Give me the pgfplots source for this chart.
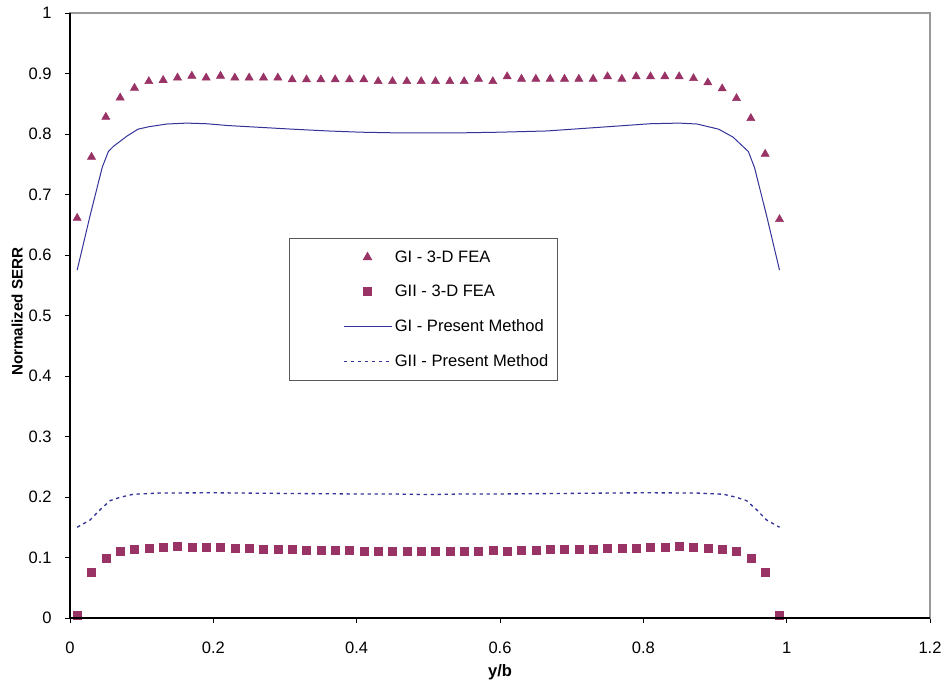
\documentclass[border=0pt]{standalone}
\usepackage{fontspec}
\setmainfont{Liberation Sans}
\usepackage{pgfplots}
\pgfplotsset{compat=1.18}
\definecolor{plum}{RGB}{153,51,102}
\definecolor{navy}{RGB}{51,51,153}
\newcommand{\chartfont}{\fontsize{12.4}{14.8}\selectfont}
\newcommand{\ylabfont}{\fontsize{11.4}{13.6}\selectfont}
\pgfplotsset{
  markleg/.style={legend image code/.code={\path (-35pt,0pt); \draw[mark repeat=2,mark phase=2,##1] plot coordinates {(0pt,0pt)(18pt,0pt)(36pt,0pt)};}},
  lineleg/.style={legend image code/.code={\path (-35pt,0pt); \draw[##1] (0pt,0pt) -- (36pt,0pt);}},
}
\begin{document}
\begin{tikzpicture}
\useasboundingbox (-52.5pt,-48.75pt) rectangle (655.5pt,463.5pt);
\begin{axis}[
  at={(0,0)}, anchor=south west,
  scale only axis, width=645pt, height=453.75pt,
  xmin=0, xmax=1.2, ymin=0, ymax=1,
  xtick={0,0.2,0.4,0.6,0.8,1,1.2},
  ytick={0,0.1,0.2,0.3,0.4,0.5,0.6,0.7,0.8,0.9,1},
  xtick pos=bottom, ytick pos=left,
  tick align=outside, major tick length=3.75pt,
  every tick/.style={black, line width=0.6pt},
  axis line style={draw=black!40, line width=0.9pt},
  /pgf/number format/assume math mode=true,
  tick label style={font=\chartfont},
  xticklabel style={font=\chartfont, anchor=base, yshift=-22.5pt},
  yticklabel style={font=\chartfont, anchor=east, xshift=-6.5pt},
  xlabel={\textbf{y/b}}, ylabel={\textbf{Normalized SERR}},
  xlabel style={font=\chartfont, at={(axis description cs:0.5,-0.0959)}, anchor=base},
  ylabel style={font=\ylabfont, at={(axis description cs:-0.0552,0.5066)}, anchor=base},
  clip=false,
  legend cell align=left,
  legend style={at={(axis cs:0.3056,0.628)}, anchor=north west,
    draw=black!65, line width=0.75pt, font=\chartfont,
    inner xsep=5pt, inner ysep=7pt, row sep=11.8pt},
  after end axis/.code={
    \draw[black, line width=0.9pt] (rel axis cs:0,1) -- (rel axis cs:0,0) -- (rel axis cs:1,0);
  },
]
\addplot[only marks, mark=triangle*, mark size=3.5pt, color=plum, markleg]
coordinates {
(0.01,0.661)(0.03,0.762)(0.05,0.828)(0.07,0.860)(0.09,0.876)(0.11,0.887)(0.13,0.889)(0.15,0.893)(0.17,0.896)(0.19,0.893)
(0.21,0.896)(0.23,0.893)(0.25,0.893)(0.27,0.893)(0.29,0.893)(0.31,0.890)(0.33,0.890)(0.35,0.890)(0.37,0.890)(0.39,0.890)
(0.41,0.890)(0.43,0.887)(0.45,0.887)(0.47,0.887)(0.49,0.887)(0.51,0.887)(0.53,0.887)(0.55,0.887)(0.57,0.891)(0.59,0.887)
(0.61,0.895)(0.63,0.891)(0.65,0.891)(0.67,0.891)(0.69,0.891)(0.71,0.891)(0.73,0.891)(0.75,0.895)(0.77,0.891)(0.79,0.895)
(0.81,0.895)(0.83,0.895)(0.85,0.895)(0.87,0.892)(0.89,0.885)(0.91,0.875)(0.93,0.859)(0.95,0.826)(0.97,0.767)(0.99,0.659)
};
\addlegendentry{GI - 3-D FEA}
\addplot[only marks, mark=square*, mark size=3pt, color=plum, markleg]
coordinates {
(0.01,0.004)(0.03,0.075)(0.05,0.099)(0.07,0.110)(0.09,0.114)(0.11,0.116)(0.13,0.117)(0.15,0.118)(0.17,0.117)(0.19,0.117)
(0.21,0.117)(0.23,0.116)(0.25,0.115)(0.27,0.114)(0.29,0.114)(0.31,0.113)(0.33,0.112)(0.35,0.112)(0.37,0.112)(0.39,0.112)
(0.41,0.111)(0.43,0.111)(0.45,0.111)(0.47,0.111)(0.49,0.111)(0.51,0.111)(0.53,0.111)(0.55,0.111)(0.57,0.111)(0.59,0.112)
(0.61,0.111)(0.63,0.112)(0.65,0.112)(0.67,0.114)(0.69,0.114)(0.71,0.114)(0.73,0.114)(0.75,0.115)(0.77,0.116)(0.79,0.116)
(0.81,0.117)(0.83,0.117)(0.85,0.118)(0.87,0.117)(0.89,0.116)(0.91,0.114)(0.93,0.110)(0.95,0.099)(0.97,0.075)(0.99,0.004)
};
\addlegendentry{GII - 3-D FEA}
\addplot[color=navy, line width=0.75pt, mark=none, lineleg]
coordinates {
(0.01,0.575)(0.028,0.665)(0.045,0.745)(0.0535,0.771)(0.06,0.779)(0.08,0.797)(0.095,0.808)(0.11,0.812)(0.135,0.8165)
(0.163,0.818)(0.19,0.817)(0.22,0.814)(0.265,0.811)(0.31,0.808)(0.36,0.805)(0.405,0.803)(0.45,0.802)(0.5,0.802)
(0.55,0.802)(0.6,0.803)(0.665,0.805)(0.75,0.812)(0.81,0.817)(0.85,0.818)(0.875,0.8165)(0.905,0.808)(0.925,0.795)
(0.9465,0.771)(0.955,0.745)(0.972,0.665)(0.99,0.575)
};
\addlegendentry{GI - Present Method}
\addplot[color=navy, line width=1pt, dash pattern=on 2.5pt off 2.75pt, mark=none, lineleg]
coordinates {
(0.01,0.150)(0.028,0.162)(0.042,0.179)(0.056,0.194)(0.07,0.1995)(0.088,0.2045)(0.126,0.2066)(0.2,0.207)(0.29,0.206)
(0.4,0.205)(0.45,0.205)(0.5,0.204)(0.55,0.205)(0.6,0.205)(0.7,0.206)(0.8,0.207)(0.874,0.2066)(0.912,0.2045)
(0.93,0.1995)(0.944,0.194)(0.958,0.179)(0.972,0.162)(0.99,0.150)
};
\addlegendentry{GII - Present Method}
\end{axis}
\end{tikzpicture}
\end{document}
